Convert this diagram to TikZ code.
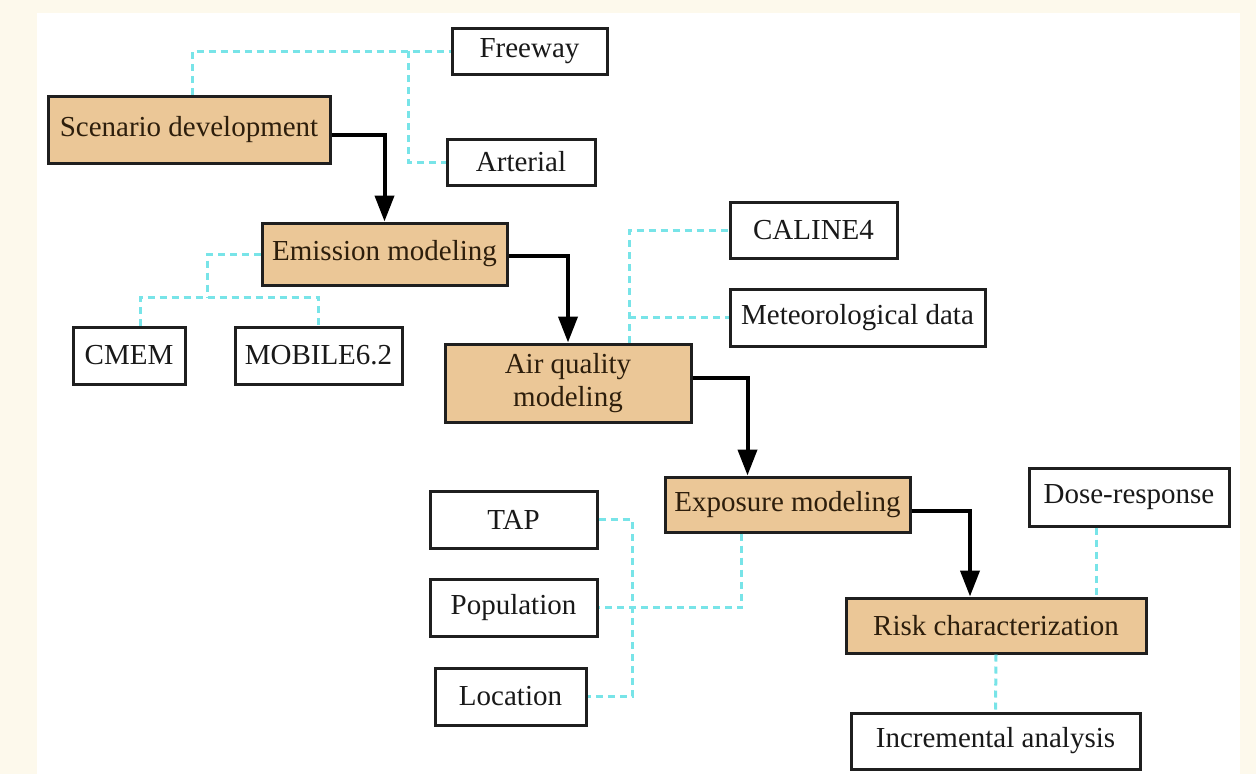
\documentclass[tikz,border=0pt]{standalone}
\usepackage{fontspec}
\setmainfont{Liberation Serif}
\usetikzlibrary{arrows.meta}
\definecolor{stagefill}{RGB}{235,199,151}
\definecolor{stagetext}{RGB}{45,30,12}
\definecolor{linkcyan}{RGB}{120,228,232}
\definecolor{cream}{RGB}{253,249,236}

\begin{document}
\begin{tikzpicture}[x=1pt,y=-1pt,
        every node/.style={draw=black!88,line width=3pt,inner sep=0pt,
            font=\fontsize{29}{33}\selectfont,align=center},
        stage/.style={fill=stagefill,text=stagetext},
        input/.style={fill=white,text=black!90},
        link/.style={draw=linkcyan,line width=3pt,dash pattern=on 7pt off 5pt},
        flow/.style={draw=black,line width=4pt,-{Triangle[width=19pt,length=26pt]}}]
    % fondo
    \fill[cream] (0,0) rectangle (1256,774);
    \fill[white] (37,13) rectangle (1240,774);

    % etapas del modelo
    \node[stage,minimum width=282pt,minimum height=67pt] (scen) at (189,129.5) {Scenario development};
    \node[stage,minimum width=245pt,minimum height=62pt] (emis) at (384.5,254) {Emission modeling};
    \node[stage,minimum width=246pt,minimum height=78pt] (aq) at (568,383) {Air quality\\modeling};
    \node[stage,minimum width=245pt,minimum height=55pt] (expo) at (787.5,504.5) {Exposure modeling};
    \node[stage,minimum width=300pt,minimum height=55pt] (risk) at (996,625.5) {Risk characterization};

    % entradas
    \node[input,minimum width=155pt,minimum height=46pt] (free) at (529.5,51) {Freeway};
    \node[input,minimum width=148pt,minimum height=46pt] (arter) at (521,162) {Arterial};
    \node[input,minimum width=112pt,minimum height=57pt] (cmem) at (129,355.5) {CMEM};
    \node[input,minimum width=167pt,minimum height=57pt] (mobile) at (318.5,355.5) {MOBILE6.2};
    \node[input,minimum width=167pt,minimum height=56pt] (cal) at (813.5,230) {CALINE4};
    \node[input,minimum width=255pt,minimum height=57pt] (met) at (857.5,317.5) {Meteorological data};
    \node[input,minimum width=167pt,minimum height=57pt] (tap) at (513.5,519.5) {TAP};
    \node[input,minimum width=167pt,minimum height=57pt] (pop) at (513.5,607.5) {Population};
    \node[input,minimum width=151pt,minimum height=57pt] (loc) at (510.5,696.5) {Location};
    \node[input,minimum width=200pt,minimum height=58pt] (dose) at (1129,497) {Dose-response};
    \node[input,minimum width=289pt,minimum height=56pt] (inc) at (995.5,741) {Incremental analysis};

    % enlaces punteados
    \coordinate (j1) at (408,51);
    \draw[link] ([xshift=3pt]scen.north) |- (free.west);
    \draw[link] (j1) |- (arter.west);
    \coordinate (j2) at (207,297);
    \draw[link] (emis.west) -| (j2);
    \draw[link] ([xshift=11pt]cmem.north) |- (j2) -| (mobile.north);
    \coordinate (j3) at ([xshift=61pt]aq.north);
    \draw[link] (j3) |- (cal.west);
    \draw[link] (j3 |- met.west) -- (met.west);
    \draw[link] ([xshift=-46pt]expo.south) |- (pop.east);
    \coordinate (j4) at (632,519.5);
    \draw[link] (tap.east) -- (j4) |- (loc.east);
    \draw[link] ([xshift=-33pt]dose.south) -- ([xshift=-33pt]dose.south |- risk.north);
    \draw[link] (risk.south) -- (inc.north);

    % flujo principal
    \draw[flow] ([yshift=-5pt]scen.east) -| (emis.north);
    \draw[flow] ([yshift=-2pt]emis.east) -| (aq.north);
    \draw[flow] ([yshift=5pt]aq.east) -| ([xshift=-40pt]expo.north);
    \draw[flow] ([yshift=-6pt]expo.east) -| ([xshift=-26pt]risk.north);
\end{tikzpicture}
\end{document}
